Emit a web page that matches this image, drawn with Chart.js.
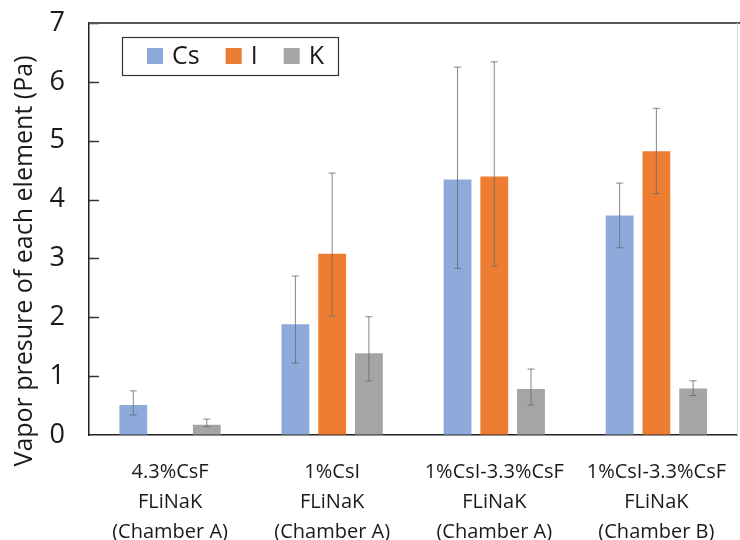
<!DOCTYPE html>
<html>
<head>
<meta charset="utf-8">
<script src="https://cdn.jsdelivr.net/npm/chart.js@4.4.1/dist/chart.umd.min.js"></script>
<style>
  html, body { margin: 0; padding: 0; background: #fff; }
  #wrap { width: 740px; height: 540px; }
</style>
</head>
<body>
<div id="wrap"><canvas id="vaporChart" width="740" height="540"></canvas></div>
<script>
    const categories = [
        ['4.3%CsF', 'FLiNaK', '(Chamber A)'],
        ['1%CsI', 'FLiNaK', '(Chamber A)'],
        ['1%CsI-3.3%CsF', 'FLiNaK', '(Chamber A)'],
        ['1%CsI-3.3%CsF', 'FLiNaK', '(Chamber B)']
    ];

    // mean vapor pressure (Pa) and error bar bounds per element
    const csValues = [0.51, 1.88, 4.34, 3.73];
    const csHigh = [0.75, 2.70, 6.25, 4.28];
    const csLow = [0.34, 1.22, 2.83, 3.18];

    const iValues = [null, 3.08, 4.39, 4.82];
    const iHigh = [null, 4.45, 6.34, 5.55];
    const iLow = [null, 2.02, 2.87, 4.10];

    const kValues = [0.175, 1.39, 0.78, 0.79];
    const kHigh = [0.27, 2.01, 1.12, 0.92];
    const kLow = [0.14, 0.92, 0.51, 0.67];

    const yTicks = [0, 1, 2, 3, 4, 5, 6, 7];
    const yTitle = 'Vapor presure of each element (Pa)';

    const FONT = '"Open Sans", "Noto Sans", sans-serif';

    // error bars, inward ticks, frame lines, in-plot legend and axis title
    const extras = {
        id: 'extras',
        afterDatasetsDraw(chart) {
            const ctx = chart.ctx;
            const y = chart.scales.y;
            ctx.save();
            ctx.strokeStyle = 'rgba(105,105,105,0.8)';
            ctx.lineWidth = 1;
            chart.data.datasets.forEach((ds, i) => {
                const meta = chart.getDatasetMeta(i);
                meta.data.forEach((bar, j) => {
                    if (ds.data[j] == null) return;
                    const top = y.getPixelForValue(ds.errHigh[j]);
                    const bot = y.getPixelForValue(ds.errLow[j]);
                    ctx.beginPath();
                    ctx.moveTo(bar.x, top);
                    ctx.lineTo(bar.x, bot);
                    ctx.moveTo(bar.x - 3.5, top);
                    ctx.lineTo(bar.x + 3.5, top);
                    ctx.moveTo(bar.x - 3.5, bot);
                    ctx.lineTo(bar.x + 3.5, bot);
                    ctx.stroke();
                });
            });
            ctx.restore();
        },
        afterDraw(chart) {
            const ctx = chart.ctx;
            const area = chart.chartArea;
            const y = chart.scales.y;
            ctx.save();

            // tick marks pointing into the plot
            ctx.strokeStyle = '#333';
            ctx.lineWidth = 1.5;
            yTicks.slice(1).forEach(v => {
                const py = Math.round(y.getPixelForValue(v)) + 0.5;
                ctx.beginPath();
                ctx.moveTo(area.left, py);
                ctx.lineTo(area.left + 10, py);
                ctx.stroke();
            });

            // frame
            ctx.strokeStyle = '#555';
            ctx.lineWidth = 2;
            ctx.beginPath();
            ctx.moveTo(area.left, area.top);
            ctx.lineTo(chart.width, area.top);
            ctx.stroke();
            ctx.strokeStyle = '#dcdcdc';
            ctx.lineWidth = 1;
            ctx.beginPath();
            ctx.moveTo(737.5, area.top);
            ctx.lineTo(737.5, area.bottom);
            ctx.stroke();

            // legend box
            const box = { x: 122, y: 37, w: 216, h: 38 };
            ctx.strokeStyle = '#333';
            ctx.lineWidth = 1.2;
            ctx.strokeRect(box.x + 0.5, box.y + 0.5, box.w, box.h);
            ctx.font = '25px ' + FONT;
            ctx.textBaseline = 'middle';
            ctx.textAlign = 'left';
            let lx = box.x + 25;
            const cy = box.y + box.h / 2;
            chart.data.datasets.forEach(ds => {
                ctx.fillStyle = ds.backgroundColor;
                ctx.fillRect(lx, cy - 8, 16, 16);
                lx += 25;
                ctx.fillStyle = '#1a1a1a';
                ctx.fillText(ds.label, lx, cy + 1);
                lx += ctx.measureText(ds.label).width + 26;
            });

            // y axis title
            ctx.translate(25, 261);
            ctx.rotate(-Math.PI / 2);
            ctx.textAlign = 'center';
            ctx.font = '25px ' + FONT;
            ctx.fillStyle = '#1a1a1a';
            ctx.fillText(yTitle, 0, 0);
            ctx.restore();
        }
    };

    const ctx = document.getElementById('vaporChart').getContext('2d');

    new Chart(ctx, {
        type: 'bar',
        data: {
            labels: categories,
            datasets: [
                { label: 'Cs', data: csValues, errHigh: csHigh, errLow: csLow, backgroundColor: '#8eaadb' },
                { label: 'I', data: iValues, errHigh: iHigh, errLow: iLow, backgroundColor: '#ed7d31' },
                { label: 'K', data: kValues, errHigh: kHigh, errLow: kLow, backgroundColor: '#a5a5a5' }
            ]
        },
        options: {
            responsive: false,
            animation: false,
            datasets: {
                bar: { categoryPercentage: 0.68, barPercentage: 0.757 }
            },
            layout: { padding: { top: 23, right: -4, left: 0, bottom: 0 } },
            plugins: {
                legend: { display: false },
                tooltip: { enabled: false }
            },
            scales: {
                x: {
                    grid: { display: false },
                    border: { display: true, color: '#222', width: 1.5 },
                    ticks: {
                        color: '#1a1a1a',
                        font: { family: FONT, size: 20, lineHeight: 1.5 },
                        padding: 14,
                        maxRotation: 0,
                        autoSkip: false
                    },
                    afterFit: s => { s.height = 105; }
                },
                y: {
                    min: 0,
                    max: 7,
                    grid: { drawOnChartArea: false, drawTicks: false },
                    border: { display: true, color: '#222', width: 1.5 },
                    ticks: {
                        stepSize: 1,
                        color: '#1a1a1a',
                        font: { family: FONT, size: 27 },
                        padding: 24
                    },
                    afterFit: s => {
                        s.width = 89;
                        s.paddingTop = 0;
                        s.paddingBottom = 0;
                    }
                }
            }
        },
        plugins: [extras]
    });
</script>
</body>
</html>
